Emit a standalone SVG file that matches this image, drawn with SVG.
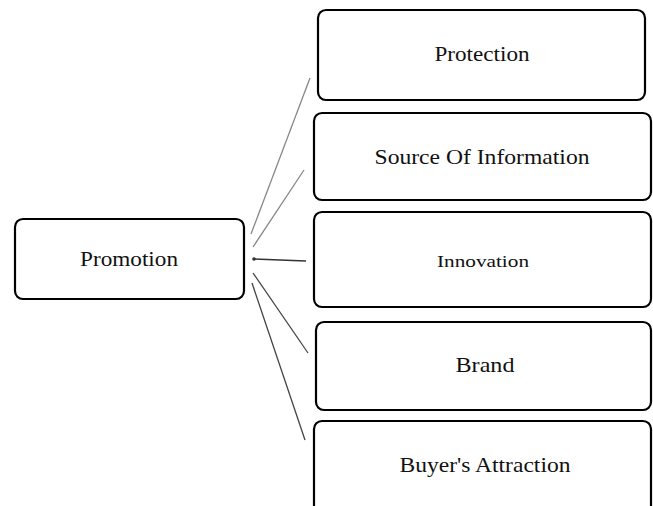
<svg xmlns="http://www.w3.org/2000/svg" width="653" height="506" viewBox="0 0 653 506">
<style>
.box{fill:#fff;stroke:#000;stroke-width:2.2}
.t{font-family:"Liberation Serif","Times New Roman",serif;font-size:21px;fill:#111;text-anchor:middle;dominant-baseline:central}
.ln{stroke-width:1.3;fill:none}
</style>
<defs>
<marker id="dot" markerWidth="4" markerHeight="4" refX="2" refY="2" markerUnits="userSpaceOnUse"><circle cx="2" cy="2" r="1.8" fill="#333"/></marker>
</defs>
<rect width="653" height="506" fill="#fff"/>
<g id="connectors">
<line class="ln" x1="310" y1="78" x2="251" y2="234" stroke="#888"/>
<line class="ln" x1="304" y1="170" x2="253" y2="247" stroke="#888"/>
<line class="ln" x1="306" y1="261" x2="254" y2="259" stroke="#333" stroke-width="1.8" marker-end="url(#dot)"/>
<line class="ln" x1="308" y1="353" x2="253" y2="273" stroke="#444"/>
<line class="ln" x1="305" y1="440" x2="252" y2="283" stroke="#444"/>
</g>
<g id="promotion"><rect class="box" x="15" y="219" width="229" height="80" rx="8"/><text class="t" x="129" y="259" textLength="98" lengthAdjust="spacingAndGlyphs">Promotion</text></g>
<g id="protection"><rect class="box" x="318" y="10" width="327" height="90" rx="8"/><text class="t" x="482" y="54" textLength="95" lengthAdjust="spacingAndGlyphs">Protection</text></g>
<g id="source"><rect class="box" x="314" y="113" width="337" height="87" rx="8"/><text class="t" x="482" y="157" textLength="215" lengthAdjust="spacingAndGlyphs">Source Of Information</text></g>
<g id="innovation"><rect class="box" x="314" y="212" width="337" height="95" rx="8"/><text class="t" x="483" y="261" style="font-size:17px" textLength="92" lengthAdjust="spacingAndGlyphs">Innovation</text></g>
<g id="brand"><rect class="box" x="316" y="322" width="335" height="88" rx="8"/><text class="t" x="485" y="365" textLength="59" lengthAdjust="spacingAndGlyphs">Brand</text></g>
<g id="buyers"><rect class="box" x="314" y="421" width="337" height="100" rx="8"/><text class="t" x="485" y="465" textLength="171" lengthAdjust="spacingAndGlyphs">Buyer's Attraction</text></g>
</svg>
